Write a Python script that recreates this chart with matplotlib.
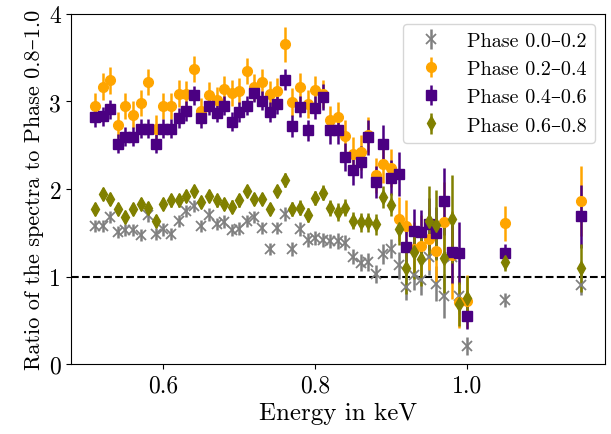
import matplotlib
matplotlib.use("Agg")
import matplotlib.pyplot as plt

plt.rcParams['font.family'] = ['cmr10', 'DejaVu Serif']
plt.rcParams['mathtext.fontset'] = 'cm'
plt.rcParams['axes.formatter.use_mathtext'] = True

energy = [0.51, 0.52, 0.53, 0.54, 0.55, 0.56, 0.57, 0.58, 0.59, 0.60,
          0.61, 0.62, 0.63, 0.64, 0.65, 0.66, 0.67, 0.68, 0.69, 0.70,
          0.71, 0.72, 0.73, 0.74, 0.75, 0.76, 0.77, 0.78, 0.79, 0.80,
          0.81, 0.82, 0.83, 0.84, 0.85, 0.86, 0.87, 0.88, 0.89, 0.90,
          0.91, 0.92, 0.93, 0.94, 0.95, 0.96, 0.97, 0.98, 0.99, 1.00,
          1.05, 1.15]

phase_00_02 = [1.58, 1.58, 1.68, 1.51, 1.53, 1.53, 1.48, 1.70, 1.49, 1.54,
               1.49, 1.64, 1.75, 1.81, 1.58, 1.71, 1.60, 1.63, 1.53, 1.55,
               1.64, 1.68, 1.56, 1.32, 1.56, 1.72, 1.32, 1.55, 1.42, 1.44,
               1.42, 1.41, 1.41, 1.39, 1.23, 1.16, 1.17, 1.03, 1.26, 1.32,
               1.13, 0.88, 1.02, 0.96, 1.22, 0.92, 0.78, 1.22, 0.78, 0.21,
               0.73, 0.91]
err_00_02 = [0.07, 0.07, 0.07, 0.07, 0.07, 0.07, 0.07, 0.07, 0.07, 0.07,
             0.07, 0.07, 0.07, 0.07, 0.07, 0.07, 0.07, 0.07, 0.07, 0.07,
             0.07, 0.07, 0.07, 0.07, 0.07, 0.08, 0.08, 0.08, 0.08, 0.08,
             0.08, 0.08, 0.09, 0.09, 0.09, 0.10, 0.10, 0.10, 0.11, 0.11,
             0.15, 0.15, 0.17, 0.17, 0.20, 0.20, 0.25, 0.30, 0.20, 0.10,
             0.08, 0.12]

phase_02_04 = [2.95, 3.17, 3.24, 2.73, 2.95, 2.85, 2.98, 3.22, 2.69, 2.95,
               2.95, 3.09, 3.08, 3.37, 2.89, 3.07, 3.02, 3.14, 3.10, 3.12,
               3.35, 3.16, 3.22, 3.08, 3.12, 3.65, 2.99, 3.17, 2.97, 3.13,
               3.08, 2.79, 2.82, 2.61, 2.40, 2.42, 2.62, 2.16, 2.29, 2.24,
               1.66, 1.58, 1.32, 1.35, 1.43, 1.29, 1.63, 1.25, 0.71, 0.72,
               1.61, 1.86]
err_02_04 = [0.15, 0.15, 0.15, 0.15, 0.15, 0.15, 0.15, 0.15, 0.15, 0.15,
             0.15, 0.15, 0.15, 0.15, 0.15, 0.15, 0.15, 0.15, 0.15, 0.15,
             0.15, 0.15, 0.15, 0.15, 0.15, 0.20, 0.16, 0.16, 0.16, 0.16,
             0.16, 0.16, 0.17, 0.18, 0.20, 0.20, 0.20, 0.20, 0.22, 0.22,
             0.25, 0.30, 0.30, 0.35, 0.35, 0.35, 0.45, 0.50, 0.30, 0.30,
             0.20, 0.40]

phase_04_06 = [2.82, 2.83, 2.91, 2.52, 2.60, 2.60, 2.69, 2.69, 2.52, 2.69,
               2.69, 2.81, 2.89, 3.07, 2.81, 2.95, 2.87, 2.95, 2.77, 2.88,
               2.95, 3.10, 3.01, 2.88, 2.97, 3.25, 2.72, 2.94, 2.67, 2.93,
               3.05, 2.67, 2.67, 2.37, 2.22, 2.31, 2.59, 2.08, 2.51, 2.13,
               2.17, 1.34, 1.52, 1.51, 1.60, 1.50, 1.86, 1.28, 1.27, 0.55,
               1.27, 1.69]
err_04_06 = [0.11, 0.11, 0.11, 0.11, 0.11, 0.11, 0.11, 0.11, 0.11, 0.11,
             0.11, 0.11, 0.11, 0.11, 0.11, 0.11, 0.11, 0.11, 0.11, 0.11,
             0.11, 0.11, 0.11, 0.11, 0.11, 0.12, 0.12, 0.12, 0.12, 0.13,
             0.15, 0.15, 0.15, 0.16, 0.17, 0.18, 0.20, 0.18, 0.22, 0.20,
             0.25, 0.20, 0.25, 0.25, 0.30, 0.30, 0.38, 0.35, 0.35, 0.15,
             0.10, 0.36]

phase_06_08 = [1.77, 1.94, 1.89, 1.77, 1.68, 1.77, 1.83, 1.78, 1.64, 1.83,
               1.87, 1.87, 1.92, 1.98, 1.85, 1.92, 1.87, 1.83, 1.80, 1.87,
               1.98, 1.89, 1.89, 1.77, 1.98, 2.10, 1.77, 1.79, 1.70, 1.90,
               1.96, 1.78, 1.74, 1.79, 1.64, 1.62, 1.62, 1.60, 1.91, 1.82,
               1.54, 1.10, 1.28, 1.20, 1.64, 1.59, 1.21, 1.66, 0.69, 0.76,
               1.17, 1.10]
err_06_08 = [0.07, 0.07, 0.07, 0.07, 0.07, 0.07, 0.07, 0.07, 0.07, 0.07,
             0.07, 0.07, 0.07, 0.07, 0.07, 0.07, 0.07, 0.07, 0.07, 0.07,
             0.07, 0.07, 0.07, 0.07, 0.07, 0.08, 0.08, 0.08, 0.08, 0.08,
             0.09, 0.09, 0.10, 0.10, 0.10, 0.11, 0.11, 0.12, 0.12, 0.13,
             0.18, 0.30, 0.30, 0.30, 0.40, 0.40, 0.40, 0.50, 0.25, 0.25,
             0.10, 0.27]

series = [
    ("Phase 0.0\u20130.2", phase_00_02, err_00_02, "gray", "x"),
    ("Phase 0.2\u20130.4", phase_02_04, err_02_04, "orange", "o"),
    ("Phase 0.4\u20130.6", phase_04_06, err_04_06, "indigo", "s"),
    ("Phase 0.6\u20130.8", phase_06_08, err_06_08, "olive", "d"),
]

fig = plt.figure(figsize=(6.11, 4.35), dpi=100)
ax = fig.add_axes([0.116, 0.160, 0.874, 0.806])

for label, y, e, c, m in series:
    ax.errorbar(energy, y, yerr=e, fmt=m, color=c, ecolor=c, elinewidth=1.8,
                markersize=7, mew=1.3 if m == "x" else 1,
                capsize=0, label=label)

ax.axhline(1.0, color="black", ls="--", lw=1.5, zorder=0.5)

ax.set_xlim(0.478, 1.182)
ax.set_ylim(0, 4)
ax.set_xticks([0.6, 0.8, 1.0])
ax.set_xticklabels(["0.6", "0.8", "1.0"])
ax.set_yticks([0, 1, 2, 3, 4])
ax.set_yticklabels(["0", "1", "2", "3", "4"])
ax.tick_params(labelsize=17)
ax.set_xlabel("Energy in keV", fontsize=18)
ax.set_ylabel("Ratio of the spectra to Phase 0.8\u20131.0", fontsize=16)

ax.legend(loc="upper right", fontsize=14.5, handletextpad=0.8)

fig.savefig("out.png", dpi=100)
